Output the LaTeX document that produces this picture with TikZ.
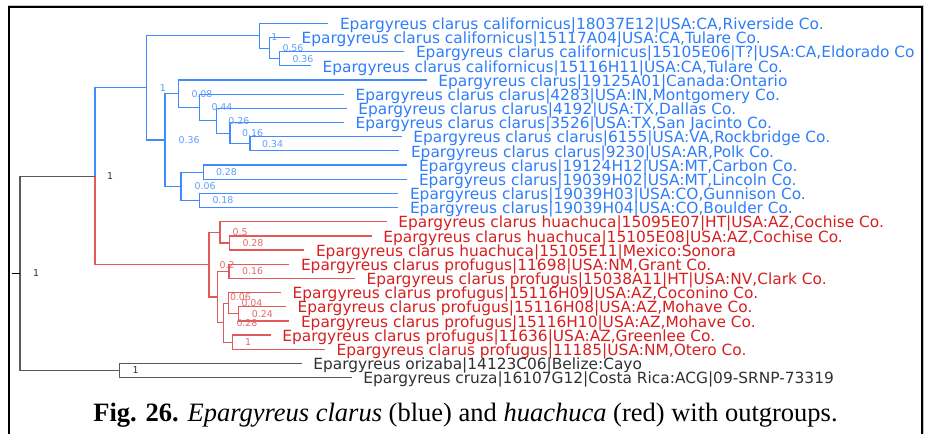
\documentclass[tikz,border=0pt]{standalone}
\usepackage{fontspec}
\setmainfont{Liberation Serif}
\newfontfamily\treefont{DejaVu Sans}
\usepackage{tikz}
\usetikzlibrary{positioning,calc}
\definecolor{tblue}{HTML}{2E7DFA}
\definecolor{lblue}{HTML}{3F8AFF}
\definecolor{sblue}{HTML}{5C9CFF}
\definecolor{tred}{HTML}{D61F1F}
\definecolor{lred}{HTML}{E05A5A}
\definecolor{sred}{HTML}{E36A6A}
\definecolor{tgray}{HTML}{303030}
\definecolor{lgray}{HTML}{5A5A5A}

\begin{document}
\begin{tikzpicture}[x=1pt,y=-1pt,
  lf/.style={anchor=west,inner xsep=11.5pt,inner ysep=0pt,text height=12.4pt,text depth=0pt,font=\treefont\fontsize{15.4}{16}\selectfont},
  bs/.style={anchor=west,inner sep=0pt,font=\treefont\fontsize{9.4}{10}\selectfont},
  bb/.style={line width=1.2pt,lblue},
  rb/.style={line width=1.2pt,lred},
  gb/.style={line width=1.2pt,lgray}]
  \useasboundingbox (0,0) rectangle (927,434);
  % rahmen
  \draw[gray!45,line width=1pt] (7.5,5.3) -- (923.8,5.3) -- (923.8,450);
  \draw[line width=2pt] (8.7,7) rectangle (922,450);
  % blaue blaetter
  \node[lf,text=tblue] (l0) at (328.3,23.3) {Epargyreus clarus californicus|18037E12|USA:CA,Riverside Co.};
  \node[lf,text=tblue] (l1) at (290,37.5) {Epargyreus clarus californicus|15117A04|USA:CA,Tulare Co.};
  \node[lf,text=tblue] (l2) at (404.3,51.6) {Epargyreus clarus californicus|15105E06|T?|USA:CA,Eldorado Co};
  \node[lf,text=tblue] (l3) at (311,65.8) {Epargyreus clarus californicus|15116H11|USA:CA,Tulare Co.};
  \node[lf,text=tblue] (l4) at (426.7,80) {Epargyreus clarus|19125A01|Canada:Ontario};
  \node[lf,text=tblue] (l5) at (344,94.2) {Epargyreus clarus clarus|4283|USA:IN,Montgomery Co.};
  \node[lf,text=tblue] (l6) at (346.7,108.3) {Epargyreus clarus clarus|4192|USA:TX,Dallas Co.};
  \node[lf,text=tblue] (l7) at (344,122.5) {Epargyreus clarus clarus|3526|USA:TX,San Jacinto Co.};
  \node[lf,text=tblue] (l8) at (401.7,136.7) {Epargyreus clarus clarus|6155|USA:VA,Rockbridge Co.};
  \node[lf,text=tblue] (l9) at (399.3,150.8) {Epargyreus clarus clarus|9230|USA:AR,Polk Co.};
  \node[lf,text=tblue] (l10) at (407.3,165) {Epargyreus clarus|19124H12|USA:MT,Carbon Co.};
  \node[lf,text=tblue] (l11) at (407.3,179.2) {Epargyreus clarus|19039H02|USA:MT,Lincoln Co.};
  \node[lf,text=tblue] (l12) at (398.3,193.3) {Epargyreus clarus|19039H03|USA:CO,Gunnison Co.};
  \node[lf,text=tblue] (l13) at (398.3,207.5) {Epargyreus clarus|19039H04|USA:CO,Boulder Co.};
  % rote blaetter
  \node[lf,text=tred] (l14) at (386.7,221.7) {Epargyreus clarus huachuca|15095E07|HT|USA:AZ,Cochise Co.};
  \node[lf,text=tred] (l15) at (371.7,235.9) {Epargyreus clarus huachuca|15105E08|USA:AZ,Cochise Co.};
  \node[lf,text=tred] (l16) at (304.3,250) {Epargyreus clarus huachuca|15105E11|Mexico:Sonora};
  \node[lf,text=tred] (l17) at (289.3,264.2) {Epargyreus clarus profugus|11698|USA:NM,Grant Co.};
  \node[lf,text=tred] (l18) at (355,278.4) {Epargyreus clarus profugus|15038A11|HT|USA:NV,Clark Co.};
  \node[lf,text=tred] (l19) at (281,292.5) {Epargyreus clarus profugus|15116H09|USA:AZ,Coconino Co.};
  \node[lf,text=tred] (l20) at (286,306.7) {Epargyreus clarus profugus|15116H08|USA:AZ,Mohave Co.};
  \node[lf,text=tred] (l21) at (289.3,320.9) {Epargyreus clarus profugus|15116H10|USA:AZ,Mohave Co.};
  \node[lf,text=tred] (l22) at (270.7,335) {Epargyreus clarus profugus|11636|USA:AZ,Greenlee Co.};
  \node[lf,text=tred] (l23) at (325,349.2) {Epargyreus clarus profugus|11185|USA:NM,Otero Co.};
  % aussengruppen
  \node[lf,text=tgray] (l24) at (301.7,363.4) {Epargyreus orizaba|14123C06|Belize:Cayo};
  \node[lf,text=tgray] (l25) at (351.7,377.5) {Epargyreus cruza|16107G12|Costa Rica:ACG|09-SRNP-73319};
  % innere knoten
  \coordinate (ca3) at (279.3,58.7);
  \coordinate (ca2) at (269.3,48.1);
  \coordinate (ca) at (259.7,35.7);
  \coordinate (cd) at (250,143.75);
  \coordinate (cc) at (230,133.1);
  \coordinate (cb) at (216.7,120.7);
  \coordinate (cx) at (199.3,107.45);
  \coordinate (on) at (178.3,93.7);
  \coordinate (mt) at (203.3,172.1);
  \coordinate (co) at (199.3,200.4);
  \coordinate (mc) at (181,186.25);
  \coordinate (bl2) at (165,140);
  \coordinate (bl1) at (146.7,87.85);
  \coordinate (hu2) at (229.3,242.95);
  \coordinate (hu1) at (220,232.3);
  \coordinate (pr2) at (229,271.3);
  \coordinate (pr6) at (238.7,313.8);
  \coordinate (pr4) at (228.3,303.15);
  \coordinate (pr5) at (232.3,342.1);
  \coordinate (pr3) at (223.3,322.6);
  \coordinate (pr1) at (217.3,296.95);
  \coordinate (rd) at (209,264.6);
  \coordinate (ing) at (95,176.2);
  \coordinate (og) at (119.3,370.45);
  \coordinate (root) at (20,273.3);
  \coordinate (tick) at (12.3,273.3);
  % blaue aeste
  \draw[bb] (ca3) |- (l2.west); \draw[bb] (ca3) |- (l3.west);
  \draw[bb] (ca2) |- (l1.west); \draw[bb] (ca2) |- (ca3);
  \draw[bb] (ca) |- (l0.west); \draw[bb] (ca) |- (ca2);
  \draw[bb] (cd) |- (l8.west); \draw[bb] (cd) |- (l9.west);
  \draw[bb] (cc) |- (l7.west); \draw[bb] (cc) |- (cd);
  \draw[bb] (cb) |- (l6.west); \draw[bb] (cb) |- (cc);
  \draw[bb] (cx) |- (l5.west); \draw[bb] (cx) |- (cb);
  \draw[bb] (on) |- (l4.west); \draw[bb] (on) |- (cx);
  \draw[bb] (mt) |- (l10.west); \draw[bb] (mt) |- (l11.west);
  \draw[bb] (co) |- (l12.west); \draw[bb] (co) |- (l13.west);
  \draw[bb] (mc) |- (mt); \draw[bb] (mc) |- (co);
  \draw[bb] (bl2) |- (on); \draw[bb] (bl2) |- (mc);
  \draw[bb] (bl1) |- (ca); \draw[bb] (bl1) |- (bl2);
  \draw[bb] (ing) |- (bl1);
  % rote aeste
  \draw[rb] (hu2) |- (l15.west); \draw[rb] (hu2) |- (l16.west);
  \draw[rb] (hu1) |- (l14.west); \draw[rb] (hu1) |- (hu2);
  \draw[rb] (pr2) |- (l17.west); \draw[rb] (pr2) |- (l18.west);
  \draw[rb] (pr6) |- (l20.west); \draw[rb] (pr6) |- (l21.west);
  \draw[rb] (pr4) |- (l19.west); \draw[rb] (pr4) |- (pr6);
  \draw[rb] (pr5) |- (l22.west); \draw[rb] (pr5) |- (l23.west);
  \draw[rb] (pr3) |- (pr4); \draw[rb] (pr3) |- (pr5);
  \draw[rb] (pr1) |- (pr2); \draw[rb] (pr1) |- (pr3);
  \draw[rb] (rd) |- (hu1); \draw[rb] (rd) |- (pr1);
  \draw[rb] (ing) |- (rd);
  % wurzel
  \draw[gb] (og) |- (l24.west); \draw[gb] (og) |- (l25.west);
  \draw[gb] (root) |- (ing); \draw[gb] (root) |- (og);
  \draw[gb,black] (tick) -- (root);
  % stuetzwerte
  \node[bs,text=sblue] (vca) at ([xshift=11.5pt,yshift=-1pt]ca) {1};
  \node[bs,text=sblue] (vca2) at ([xshift=13pt]ca2) {0.56};
  \node[bs,text=sblue] (vca3) at ([xshift=13pt]ca3) {0.36};
  \node[bs,text=sblue] (vbl1) at ([xshift=13pt]bl1) {1};
  \node[bs,text=sblue] (vbl2) at ([xshift=13.5pt]bl2) {0.36};
  \node[bs,text=sblue] (von) at ([xshift=13pt]on) {0.08};
  \node[bs,text=sblue] (vcx) at ([xshift=12pt]cx) {0.44};
  \node[bs,text=sblue] (vcb) at ([xshift=11.5pt]cb) {0.26};
  \node[bs,text=sblue] (vcc) at ([xshift=12pt]cc) {0.16};
  \node[bs,text=sblue] (vcd) at ([xshift=12pt]cd) {0.34};
  \node[bs,text=sblue] (vmc) at ([xshift=13.5pt]mc) {0.06};
  \node[bs,text=sblue] (vmt) at ([xshift=12.5pt]mt) {0.28};
  \node[bs,text=sblue] (vco) at ([xshift=13pt]co) {0.18};
  \node[bs,text=sred] (vhu1) at ([xshift=12.5pt]hu1) {0.5};
  \node[bs,text=sred] (vhu2) at ([xshift=13pt]hu2) {0.28};
  \node[bs,text=sred] (vrd) at ([xshift=10.5pt]rd) {0.2};
  \node[bs,text=sred] (vpr2) at ([xshift=13pt]pr2) {0.16};
  \node[bs,text=sred] (vpr1) at ([xshift=12.5pt]pr1) {0.06};
  \node[bs,text=sred] (vpr4) at ([xshift=13pt]pr4) {0.04};
  \node[bs,text=sred] (vpr6) at ([xshift=13pt]pr6) {0.24};
  \node[bs,text=sred] (vpr3) at ([xshift=13pt]pr3) {0.28};
  \node[bs,text=sred] (vpr5) at ([xshift=12.5pt]pr5) {1};
  \node[bs,text=tgray] (ving) at ([xshift=12pt]ing) {1};
  \node[bs,text=tgray] (vog) at ([xshift=13pt]og) {1};
  \node[bs,text=tgray] (vroot) at ([xshift=13pt]root) {1};
  % bildunterschrift
  \node[anchor=base,inner sep=0pt,font=\fontsize{26.5}{28}\selectfont] (cap) at (465.5,421.5)
    {\textbf{Fig. 26.} \textit{Epargyreus clarus} (blue) and \textit{huachuca} (red) with outgroups.};
\end{tikzpicture}
\end{document}
